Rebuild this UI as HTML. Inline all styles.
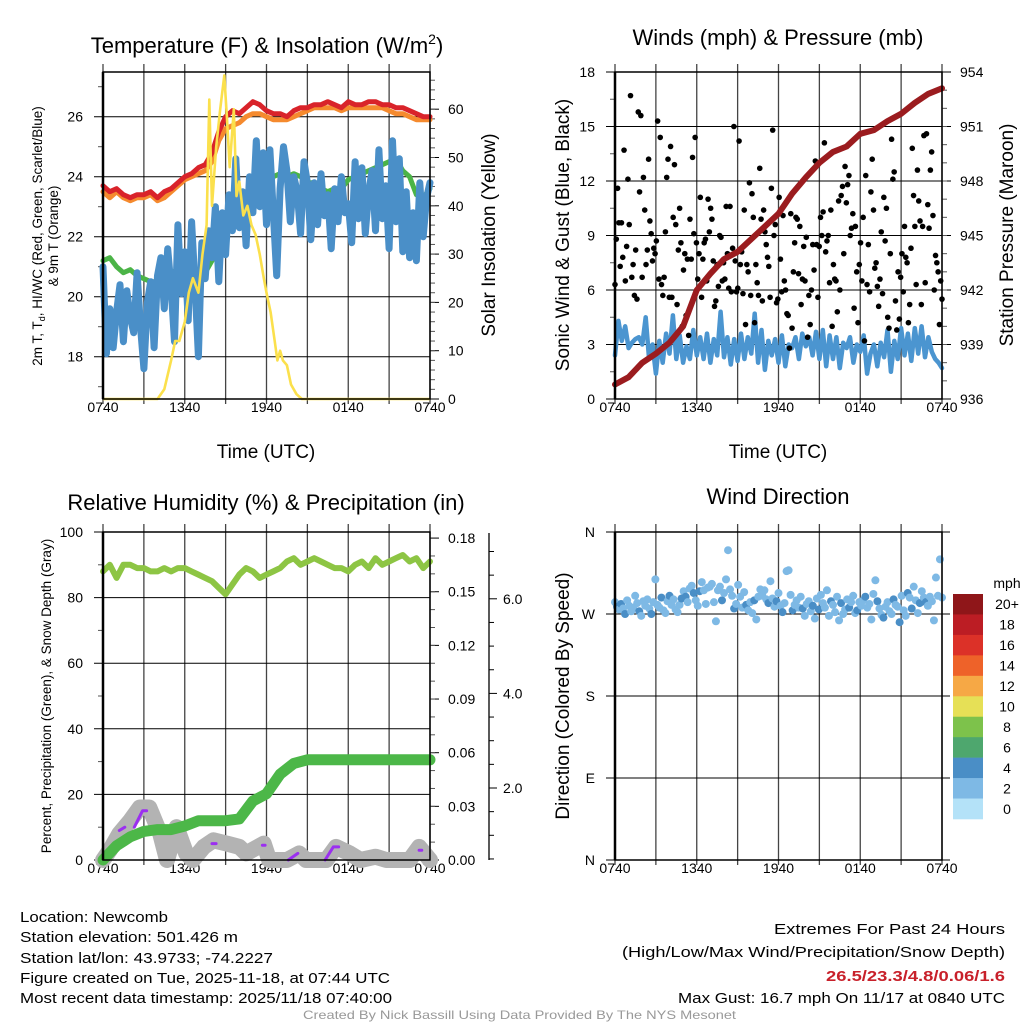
<!DOCTYPE html>
<html><head><meta charset="utf-8"><style>
html,body{margin:0;padding:0;background:#fff;}
svg{display:block;font-family:"Liberation Sans",sans-serif;}
</style></head><body>
<svg id="c" width="1024" height="1024" viewBox="0 0 1024 1024" xmlns="http://www.w3.org/2000/svg">
<rect x="0" y="0" width="1024" height="1024" fill="#fff"/>
<g id="layer"></g>
<g font-size="22" text-anchor="middle" fill="#000">
<text x="267" y="53">Temperature (F) &amp; Insolation (W/m<tspan font-size="14" dy="-9">2</tspan><tspan dy="9">)</tspan></text>
<text x="778" y="45">Winds (mph) &amp; Pressure (mb)</text>
<text x="266" y="510">Relative Humidity (%) &amp; Precipitation (in)</text>
<text x="778" y="504">Wind Direction</text>
</g>
<g font-size="19" text-anchor="middle">
<text x="266" y="458">Time (UTC)</text>
<text x="778" y="458">Time (UTC)</text>
<text transform="translate(495,235) rotate(-90)">Solar Insolation (Yellow)</text>
<text transform="translate(569,235) rotate(-90)">Sonic Wind &amp; Gust (Blue, Black)</text>
<text transform="translate(1013,235) rotate(-90)">Station Pressure (Maroon)</text>
<text transform="translate(569,696) rotate(-90)">Direction (Colored By Speed)</text>
</g>
<g font-size="13.5" text-anchor="middle">
<text transform="translate(42,236) rotate(-90)">2m T, T<tspan font-size="9" dy="3">d</tspan><tspan dy="-3">, HI/WC (Red, Green, Scarlet/Blue)</tspan></text>
<text transform="translate(58,236) rotate(-90)">&amp; 9m T (Orange)</text>
<text transform="translate(51,696) rotate(-90)">Percent, Precipitation (Green), &amp; Snow Depth (Gray)</text>
</g>
<g font-size="15" fill="#000">
<text x="20" y="922" textLength="148" lengthAdjust="spacingAndGlyphs">Location: Newcomb</text>
<text x="20" y="942" textLength="218" lengthAdjust="spacingAndGlyphs">Station elevation: 501.426 m</text>
<text x="20" y="963" textLength="253" lengthAdjust="spacingAndGlyphs">Station lat/lon: 43.9733; -74.2227</text>
<text x="20" y="983" textLength="370" lengthAdjust="spacingAndGlyphs">Figure created on Tue, 2025-11-18, at 07:44 UTC</text>
<text x="20" y="1003" textLength="372" lengthAdjust="spacingAndGlyphs">Most recent data timestamp: 2025/11/18 07:40:00</text>
<text x="774" y="934" textLength="231" lengthAdjust="spacingAndGlyphs">Extremes For Past 24 Hours</text>
<text x="622" y="957" textLength="383" lengthAdjust="spacingAndGlyphs">(High/Low/Max Wind/Precipitation/Snow Depth)</text>
<text x="826" y="981" textLength="179" lengthAdjust="spacingAndGlyphs" font-weight="bold" fill="#c8202a">26.5/23.3/4.8/0.06/1.6</text>
<text x="678" y="1003" textLength="327" lengthAdjust="spacingAndGlyphs">Max Gust: 16.7 mph On 11/17 at 0840 UTC</text>
<text x="303" y="1019" font-size="12" fill="#999" textLength="433" lengthAdjust="spacingAndGlyphs">Created By Nick Bassill Using Data Provided By The NYS Mesonet</text>
</g>
</svg>
<script>
// ---------- data ----------
const timeLabels = ["0740","1340","1940","0140","0740"];
const tempRed = [23.7,23.5,23.6,23.4,23.3,23.4,23.4,23.5,23.3,23.5,23.6,23.8,24.0,24.1,24.3,24.4,24.8,25.5,26.0,26.2,26.1,26.3,26.5,26.4,26.2,26.1,26.1,26.0,26.2,26.3,26.3,26.4,26.4,26.5,26.4,26.3,26.5,26.4,26.4,26.5,26.5,26.4,26.4,26.3,26.3,26.2,26.1,26.0,26.0];
const temp9mOrange = [23.5,23.3,23.5,23.3,23.2,23.3,23.3,23.4,23.2,23.3,23.5,23.7,23.9,24.0,24.1,24.2,24.5,25.2,25.6,25.7,25.8,26.0,26.1,26.1,26.0,25.9,25.9,25.9,26.0,26.1,26.2,26.3,26.3,26.3,26.3,26.2,26.3,26.3,26.3,26.3,26.3,26.3,26.2,26.1,26.1,26.0,25.9,25.9,25.9];
const dewGreen = [21.2,21.3,21.0,20.8,20.9,20.7,20.6,20.5,20.5,20.6,20.8,20.9,20.9,20.7,20.6,20.8,21.2,21.8,22.1,22.5,23.0,23.3,23.5,23.7,23.9,24.0,24.1,24.0,24.1,24.0,23.8,23.8,23.6,23.5,23.6,23.6,23.9,24.0,24.1,24.2,24.3,24.4,24.5,24.6,24.2,24.0,23.4,23.3,23.6];
const wcBlue = [21.0,18.1,19.6,18.3,19.5,20.4,18.5,20.2,19.3,18.8,20.8,19.0,17.6,19.8,20.5,18.3,
 20.7,21.3,19.6,21.6,20.3,18.5,22.4,20.1,21.5,19.2,22.5,20.4,18.0,21.8,20.6,22.2,
 21.3,23.0,20.5,22.8,21.4,23.4,22.2,24.6,22.3,23.5,21.7,24.0,22.8,25.2,23.0,24.8,
 22.4,24.9,22.8,20.7,23.6,25.0,24.2,22.5,24.0,23.5,22.1,24.5,23.8,21.9,23.8,22.4,
 24.1,22.7,23.4,21.6,23.6,22.5,24.0,22.8,23.1,21.8,24.5,22.6,24.3,22.1,23.5,24.2,
 22.2,24.9,22.6,23.7,21.6,25.2,22.5,24.6,21.5,23.5,21.3,22.8,21.2,23.8,22.0,23.3,23.8];
const solarHours = [0,4,4.5,5,5.3,5.6,6,6.3,6.6,7,7.3,7.6,7.8,8,8.3,8.6,8.9,9.1,9.3,9.6,9.8,10,10.3,10.6,10.9,11.2,11.5,11.8,12,12.3,12.6,12.8,13,13.2,13.5,13.8,14.2,14.6,24];
const solarValues = [0,0,2,8,12,12,16,22,25,22,30,36,62,40,52,60,67,58,48,60,42,45,38,40,36,34,30,25,22,18,12,8,10,8,7,3,1,0,0];
const pressure = [936.8,937.2,938.0,938.5,939.1,940.0,942.0,942.9,943.7,944.1,944.8,945.5,946.2,947.3,948.2,949.0,949.6,949.9,950.6,950.8,951.3,951.7,952.3,952.8,953.1];
const windSpeed = [2.4,4.3,3.2,4.0,2.8,3.1,3.3,3.4,3.0,4.5,2.2,3.0,1.4,3.2,2.0,3.6,
 2.5,4.6,2.2,3.5,2.0,2.9,2.2,3.8,2.4,3.4,2.2,3.6,2.0,3.3,2.4,4.8,
 2.3,3.4,1.9,3.3,2.1,3.6,2.2,3.4,2.5,4.7,2.0,3.8,1.6,3.2,2.4,3.3,
 2.0,3.5,1.8,3.0,2.8,3.4,2.2,3.6,2.9,3.4,2.4,3.7,2.2,3.8,1.8,3.5,
 2.2,3.4,1.7,3.1,2.8,3.4,2.0,3.0,2.6,3.5,1.4,2.5,3.0,1.8,3.1,2.3,
 3.8,1.5,3.2,2.2,3.9,2.4,3.6,2.1,3.9,2.5,4.0,2.3,3.4,2.6,2.2,2.0,1.7];
const gusts = [6.3,8.8,11.6,9.7,7.3,9.7,7.8,13.7,6.5,8.4,12.1,9.6,16.7,6.7,7.4,5.7,8.2,5.5,15.8,11.4,15.6,6.7,12.2,10.4,7.4,8.2,13.2,9.8,9.1,7.6,8.3,8.0,8.7,15.3,6.6,14.4,6.3,5.7,6.7,9.2,12.2,13.2,5.6,13.9,5.6,10.0,12.9,9.6,5.2,8.2,10.5,8.6,4.0,7.1,8.0,4.6,7.7,3.5,9.9,7.7,13.3,9.1,14.4,8.6,6.6,8.0,11.1,5.6,7.7,8.6,8.8,6.5,11.0,9.2,10.5,9.9,7.6,5.1,5.4,7.4,6.2,9.0,8.9,6.5,7.5,6.6,10.6,8.0,6.1,10.6,5.9,8.3,15.0,7.6,5.9,6.1,14.2,7.4,8.1,5.8,10.4,4.1,7.4,7.0,11.9,5.7,11.3,10.0,4.2,7.4,6.4,5.7,12.7,9.9,5.4,10.4,9.2,8.5,7.8,7.3,5.6,11.6,14.8,9.0,9.6,5.3,5.5,11.1,7.7,5.9,10.1,6.5,6.0,4.7,4.6,2.8,
 10.2,3.9,7.0,8.6,10.0,9.9,6.9,9.5,5.2,6.6,8.4,6.5,8.9,3.4,5.7,4.1,6.0,8.5,7.1,13.1,8.5,5.6,8.4,10.0,9.0,10.3,14.1,8.1,8.7,9.0,6.4,10.4,4.0,7.4,6.6,6.5,4.8,10.9,6.0,11.2,11.7,8.0,12.8,10.8,11.8,12.3,9.0,9.4,10.2,5.0,9.5,7.0,4.2,7.4,8.6,6.5,10.0,3.2,12.3,6.3,8.5,5.9,11.4,13.2,10.4,7.2,7.5,6.2,5.1,6.6,9.2,5.8,11.1,8.7,10.5,4.5,3.9,8.0,14.3,12.1,12.5,5.4,3.8,7.0,4.4,6.7,8.0,5.9,9.5,7.8,7.5,4.2,5.2,8.3,13.8,11.2,9.5,6.3,12.6,10.9,9.8,5.2,9.5,14.5,6.4,14.6,10.7,9.4,12.6,13.6,10.1,6.0,7.9,7.5,7.0,4.1,6.5,5.5];
const rh = [88,90,86,90,90,89,89,88,88,89,88,89,89,88,87,86,85,83,81,84,87,89,88,86,87,88,89,91,92,90,91,92,91,90,89,89,88,90,91,89,92,90,91,92,93,91,92,89,91];
const precip = [0,0.008,0.013,0.016,0.017,0.017,0.019,0.022,0.022,0.022,0.023,0.033,0.037,0.048,0.054,0.056,0.056,0.056,0.056,0.056,0.056,0.056,0.056,0.056,0.056];
const snowHours = [0,0.5,1.2,2,2.7,3.4,4.2,4.7,5.4,6.1,6.6,7.4,8.1,9.1,10,10.5,11.8,12.2,13.5,14.4,14.9,16.4,17.1,18.1,18.9,20,20.8,22.5,23.2,24];
const snowDepth = [0,3,8,12,16,16,8,0,10,2,0,4,6,5,4,2,5,0,0,2,0,0,4,2,0,1,0,0,4,0];
const purpleHours = [1.2,1.6,null,2.3,2.9,3.2,null,8.0,8.3,null,11.7,11.9,null,13.6,14.3,null,16.3,16.9,17.3,null,23.2,23.4];
const purpleValues = [9,10,null,10,15,15,null,5,5,null,4.5,4.5,null,0,2,null,0,4,4,null,3,3];
const windDir = [283,278,275,281,276,270,285,279,273,277,290,282,273,268,284,279,286,276,270,283,308,280,277,288,274,271,284,290,280,286,275,272,280,287,295,289,283,298,301,293,285,279,295,305,296,281,299,300,303,283,262,296,300,285,293,308,340,297,290,276,281,302,289,277,294,280,274,283,271,285,264,289,297,290,296,286,282,306,287,278,284,293,279,272,282,317,318,291,274,280,285,277,289,276,268,281,284,273,279,265,287,275,291,282,277,296,268,284,280,272,289,263,282,270,275,286,277,283,290,271,274,283,279,285,289,277,281,264,292,307,284,276,269,266,278,283,273,270,286,280,278,261,290,274,268,293,288,276,300,285,271,282,295,288,283,279,289,284,263,310,290,330,288];
const windDirSpeed = [3,4,3,4,3,4,3,2,3,3,3,3,4,3,3,3,2,3,4,3,3,3,2,4,3,3,3,4,3,3,2,3,3,4,3,4,3,3,3,4,3,3,4,3,3,3,2,3,3,3,3,3,3,4,3,3,3,3,3,4,3,3,3,3,3,4,3,3,3,4,3,3,3,3,3,3,4,3,3,3,4,3,3,4,3,3,3,3,4,3,3,3,3,4,3,3,3,3,4,3,3,4,3,3,3,3,3,4,3,3,3,3,4,3,3,3,4,3,3,3,4,3,3,3,4,3,3,3,3,3,4,3,3,4,3,3,3,3,4,3,3,4,3,3,3,4,3,4,3,3,3,4,3,3,4,3,3,3,3,3,3,3,3];
const cbLabels = ["20+","18","16","14","12","10","8","6","4","2","0"];
const cbColors = ["#8f1619","#bc1d24","#dc3128","#ee6229","#f6a845","#e6e056","#7dc24b","#4ea76e","#4a8ec6","#7eb9e5","#b4e2f8"];

// ---------- helpers ----------
const NS = "http://www.w3.org/2000/svg";
const layer = document.getElementById('layer');
function el(tag, attrs, parent){
  const e = document.createElementNS(NS, tag);
  for (const k in attrs) e.setAttribute(k, attrs[k]);
  (parent||layer).appendChild(e);
  return e;
}
const P = {
  tl:{x0:103,x1:430,y0:72,y1:399},
  tr:{x0:615,x1:942,y0:72,y1:399},
  bl:{x0:103,x1:430,y0:532,y1:860},
  br:{x0:615,x1:942,y0:532,y1:860}
};
function xAt(p,h){ return p.x0 + (p.x1-p.x0)*h/24; }
function yAt(p,v,lo,hi){ return p.y1 - (v-lo)/(hi-lo)*(p.y1-p.y0); }
function idxHour(i,n){ return i*24/(n-1); }

function frame(p, key){
  const g = el('g', {});
  
  
  for (let k=0;k<=8;k++){
    const x = xAt(p,k*3);
    const l = el('line',{x1:x,x2:x,y1:p.y0-8,y2:p.y1+5,stroke:'#444','stroke-width':1.3},g);
    
    
  }
  timeLabels.forEach((t,i)=>{
    const tx = el('text',{x:xAt(p,i*6),y:p.y1+13,'font-size':14,'text-anchor':'middle'},g);
    tx.textContent = t;
    
    
  });
  return g;
}
function border(p,key){
  const r = el('rect',{x:p.x0,y:p.y0,width:p.x1-p.x0,height:p.y1-p.y0,fill:'none',stroke:'#000','stroke-width':1.5});
  
  
  const l = el('line',{x1:p.x0,x2:p.x0,y1:p.y0,y2:p.y1,stroke:'#000','stroke-width':2.5});
  
  
}
function leftAxis(p,key,lo,hi,majors,minors,fmt,labelsOverride){
  majors.forEach((v,i)=>{
    const y = yAt(p,v,lo,hi);
    const l = el('line',{x1:p.x0-9,x2:p.x1,y1:y,y2:y,stroke:'#000','stroke-width':1});
    
    
    const t = el('text',{x:p.x0-20,y:y+5,'font-size':14,'text-anchor':'end'});
    t.textContent = labelsOverride ? labelsOverride[i] : fmt(v);
    
    
  });
  minors.forEach(v=>{
    const y = yAt(p,v,lo,hi);
    const l = el('line',{x1:p.x0-5,x2:p.x0,y1:y,y2:y,stroke:'#555','stroke-width':1});
    
    
  });
}
function rightAxis(p,key,lo,hi,majors,minors,fmt,lx){
  majors.forEach(v=>{
    const y = yAt(p,v,lo,hi);
    const l = el('line',{x1:p.x1,x2:p.x1+9,y1:y,y2:y,stroke:'#000','stroke-width':1});
    
    
    const t = el('text',{x:lx,y:y+5,'font-size':14,'text-anchor':'start'});
    t.textContent = fmt(v);
    
    
  });
  minors.forEach(v=>{
    const y = yAt(p,v,lo,hi);
    const l = el('line',{x1:p.x1,x2:p.x1+5,y1:y,y2:y,stroke:'#555','stroke-width':1});
    
    
  });
}
function range(a,b,s){ const r=[]; for(let v=a; v<=b+1e-9; v+=s) r.push(+v.toFixed(4)); return r; }
function linePath(p, hours, vals, lo, hi){
  let d='', pen=false;
  hours.forEach((h,i)=>{
    if (h===null || vals[i]===null){ pen=false; return; }
    d += (pen?'L':'M') + xAt(p,h).toFixed(1) + ',' + yAt(p,vals[i],lo,hi).toFixed(1);
    pen = true;
  });
  return d;
}
function series(p, vals, lo, hi, color, w, name){
  const hours = vals.map((v,i)=>idxHour(i,vals.length));
  const path = el('path',{d:linePath(p,hours,vals,lo,hi),fill:'none',stroke:color,'stroke-width':w,'stroke-linejoin':'round','stroke-linecap':'round'});
  
  
  return path;
}

// ---------- Temperature panel ----------
{
  const p=P.tl, lo=16.59, hi=27.49, slo=0, shi=67.7;
  frame(p,'temp');
  leftAxis(p,'temp',lo,hi,[18,20,22,24,26],[17,19,21,23,25,27],v=>String(v));
  rightAxis(p,'temp',slo,shi,[0,10,20,30,40,50,60],range(2,66,2),v=>String(v),448);
  series(p,temp9mOrange,lo,hi,'#f58a2e',5,'temp-9m-line');
  series(p,tempRed,lo,hi,'#d9232a',5,'temp-2m-line');
  series(p,dewGreen,lo,hi,'#4bb447',5,'dewpoint-line');
  series(p,wcBlue,lo,hi,'#4a8fc8',7,'windchill-line');
  const sp = el('path',{d:linePath(p,solarHours,solarValues,slo,shi),fill:'none',stroke:'#fbe04c','stroke-width':2.6,'stroke-linejoin':'round'});
  
  
  border(p,'temp');
}
// ---------- Winds panel ----------
{
  const p=P.tr, lo=0, hi=18, plo=936, phi=954;
  frame(p,'wind');
  leftAxis(p,'wind',lo,hi,[0,3,6,9,12,15,18],[1.5,4.5,7.5,10.5,13.5,16.5],v=>String(v));
  rightAxis(p,'wind',plo,phi,[936,939,942,945,948,951,954],range(937,953,1),v=>String(v),960);
  series(p,windSpeed,lo,hi,'#4b95d0',4.5,'wind-speed-line');
  gusts.forEach((g,i)=>{
    const c = el('circle',{cx:xAt(p,idxHour(i,gusts.length)),cy:yAt(p,g,lo,hi),r:2.8,fill:'#000'});
    
    
  });
  series(p,pressure,plo,phi,'#9b1c1f',6,'pressure-line');
  border(p,'wind');
}
// ---------- Humidity panel ----------
{
  const p=P.bl, lo=0, hi=100, qlo=0, qhi=0.1834;
  frame(p,'rh');
  leftAxis(p,'rh',lo,hi,[0,20,40,60,80,100],[10,30,50,70,90],v=>String(v));
  rightAxis(p,'rh',qlo,qhi,[0,0.03,0.06,0.09,0.12,0.15,0.18],range(0.01,0.17,0.01),v=>v.toFixed(2),448);
  const sx=489, sy=v=>788-(v-2)*47.3;
  const ax = el('line',{x1:sx,x2:sx,y1:533,y2:860,stroke:'#000','stroke-width':1.3});
  
  
  range(0.5,7,0.5).forEach(v=>{
    const t = el('line',{x1:sx,x2:sx+(v%2===0?8:5),y1:sy(v),y2:sy(v),stroke:'#000','stroke-width':1});
    
    
  });
  [2,4,6].forEach(v=>{
    const t = el('text',{x:503,y:sy(v)+5,'font-size':14});
    t.textContent = v.toFixed(1);
    
    
  });
  series(p,rh,lo,hi,'#8dc544',6,'relative-humidity-line');
  const gp = el('path',{d:linePath(p,snowHours,snowDepth,lo,hi),fill:'none',stroke:'#b3b3b3','stroke-width':16,'stroke-linejoin':'round','stroke-linecap':'round'});
  
  
  const pp = el('path',{d:linePath(p,purpleHours,purpleValues,lo,hi),fill:'none',stroke:'#9b2ff0','stroke-width':3,'stroke-linejoin':'round','stroke-linecap':'round'});
  
  
  series(p,precip,qlo,qhi,'#4cb748',11,'precipitation-line');
  border(p,'rh');
}
// ---------- Direction panel ----------
{
  const p=P.br, lo=0, hi=360;
  frame(p,'dir');
  leftAxis(p,'dir',lo,hi,[0,90,180,270,360],[],null,["N","E","S","W","N"]);
  [0,90,180,270,360].forEach(v=>{
    const y=yAt(p,v,lo,hi);
    const l = el('line',{x1:p.x1,x2:p.x1+8,y1:y,y2:y,stroke:'#000','stroke-width':1});
    
    
  });
  windDir.forEach((d,i)=>{
    const s = windDirSpeed[i];
    const col = s>=4 ? '#4a8ec6' : '#7eb9e5';
    const c = el('circle',{cx:xAt(p,idxHour(i,windDir.length)),cy:yAt(p,d,lo,hi),r:4,fill:col});
    
    
  });
  border(p,'dir');
  const bh = 225/cbColors.length;
  cbColors.forEach((c,i)=>{
    const r = el('rect',{x:953,y:594+i*bh,width:30,height:bh+0.3,fill:c});
    
    
    const t = el('text',{x:1007,y:594+i*bh+bh/2+5,'font-size':14,'text-anchor':'middle'});
    t.textContent = cbLabels[i];
    
    
  });
  const m = el('text',{x:1007,y:588,'font-size':14,'text-anchor':'middle'});
  m.textContent = 'mph';
  
  
}
</script>
</body></html>
